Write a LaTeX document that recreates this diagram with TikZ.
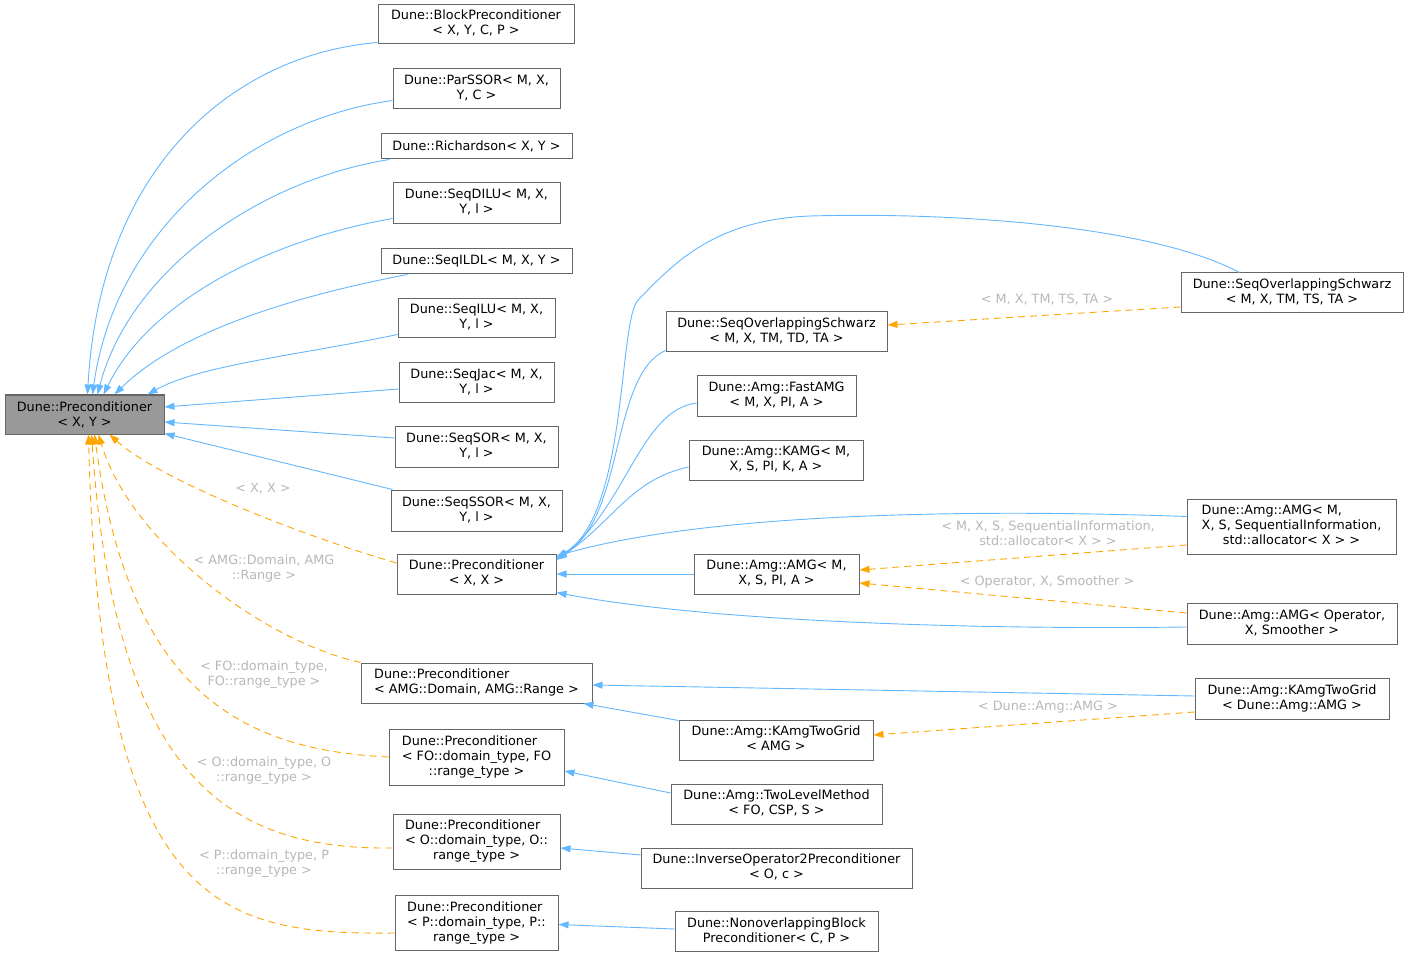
\documentclass[tikz,border=0pt]{standalone}
\usepackage{fontspec}
\setmainfont{DejaVu Sans}
\usetikzlibrary{arrows.meta,calc}
\definecolor{eblue}{HTML}{63B8FF}
\definecolor{eorange}{HTML}{FFA500}
\definecolor{bord}{HTML}{666666}
\definecolor{rootfill}{HTML}{999999}
\definecolor{lbl}{HTML}{B8B8B8}
\newcommand\tl[2]{\begin{tabular}{@{}l@{}}#1\\\multicolumn{1}{@{}c@{}}{#2}\end{tabular}}
\newcommand\tll[3]{\begin{tabular}{@{}l@{}}#1\\\multicolumn{1}{@{}c@{}}{#2}\\\multicolumn{1}{@{}c@{}}{#3}\end{tabular}}
\begin{document}
\begin{tikzpicture}[x=1pt,y=-1pt,
  box/.style={draw=bord, line width=1pt, fill=white, inner sep=0pt,
    font=\fontsize{12.8}{15}\selectfont, align=center},
  inh/.style={draw=eblue, line width=0.9pt, -{Triangle[length=10pt,width=7pt]}},
  tmpl/.style={draw=eorange, line width=0.9pt, dash pattern=on 7pt off 5pt,
    -{Triangle[length=10pt,width=7pt]}},
  lab/.style={text=lbl, font=\fontsize{12.8}{15}\selectfont, align=center, inner sep=0pt}]
\useasboundingbox (0,0) rectangle (1408,957);
\fill[white] (0,0) rectangle (1408,957);

% root
\node[box, fill=rootfill, minimum width=159, minimum height=39] (root) at (84.5,414.5) {Dune::Preconditioner\\< X, Y >};

% column 1
\node[box, minimum width=196, minimum height=39] (block) at (476,24.5) {\tl{Dune::BlockPreconditioner}{< X, Y, C, P >}};
\node[box, minimum width=167, minimum height=40] (parssor) at (476.5,89) {\tl{Dune::ParSSOR< M, X,}{Y, C >}};
\node[box, minimum width=191, minimum height=25] (rich) at (476.5,146.5) {Dune::Richardson< X, Y >};
\node[box, minimum width=167, minimum height=41] (dilu) at (476.5,203.5) {\tl{Dune::SeqDILU< M, X,}{Y, l >}};
\node[box, minimum width=191, minimum height=25] (ildl) at (476.5,261.5) {Dune::SeqILDL< M, X, Y >};
\node[box, minimum width=157, minimum height=39] (ilu) at (476.5,318.5) {\tl{Dune::SeqILU< M, X,}{Y, l >}};
\node[box, minimum width=155, minimum height=39] (jac) at (476.5,382.5) {\tl{Dune::SeqJac< M, X,}{Y, l >}};
\node[box, minimum width=163, minimum height=41] (sor) at (476.5,446.5) {\tl{Dune::SeqSOR< M, X,}{Y, l >}};
\node[box, minimum width=171, minimum height=41] (ssor) at (476.5,510.5) {\tl{Dune::SeqSSOR< M, X,}{Y, l >}};
\node[box, minimum width=159, minimum height=40] (pxx) at (476.5,574) {\tl{Dune::Preconditioner}{< X, X >}};
\node[box, minimum width=231, minimum height=40] (pamg) at (476.5,683) {\tl{Dune::Preconditioner}{< AMG::Domain, AMG::Range >}};
\node[box, minimum width=175, minimum height=56] (pfo) at (476.5,757) {\tll{Dune::Preconditioner}{< FO::domain\_type, FO}{::range\_type >}};
\node[box, minimum width=167, minimum height=55] (po) at (476.5,841.5) {\tll{Dune::Preconditioner}{< O::domain\_type, O::}{range\_type >}};
\node[box, minimum width=163, minimum height=55] (pp) at (476.5,923) {\tll{Dune::Preconditioner}{< P::domain\_type, P::}{range\_type >}};

% column 2
\node[box, minimum width=221, minimum height=40] (sostd) at (776.5,332) {\tl{Dune::SeqOverlappingSchwarz}{< M, X, TM, TD, TA >}};
\node[box, minimum width=159, minimum height=40] (fast) at (776.5,396) {\tl{Dune::Amg::FastAMG}{< M, X, PI, A >}};
\node[box, minimum width=174, minimum height=40] (kamg) at (776,460) {\tl{Dune::Amg::KAMG< M,}{X, S, PI, K, A >}};
\node[box, minimum width=165, minimum height=40] (amgpi) at (776.5,574) {\tl{Dune::Amg::AMG< M,}{X, S, PI, A >}};
\node[box, minimum width=194, minimum height=40] (ktga) at (776,740) {\tl{Dune::Amg::KAmgTwoGrid}{< AMG >}};
\node[box, minimum width=211, minimum height=40] (tlm) at (776.5,804) {\tl{Dune::Amg::TwoLevelMethod}{< FO, CSP, S >}};
\node[box, minimum width=271, minimum height=40] (inv) at (776.5,868) {\tl{Dune::InverseOperator2Preconditioner}{< O, c >}};
\node[box, minimum width=203, minimum height=40] (nonov) at (776.5,931.5) {\tl{Dune::NonoverlappingBlock}{Preconditioner< C, P >}};

% column 3
\node[box, minimum width=222, minimum height=40] (sosts) at (1292,293) {\tl{Dune::SeqOverlappingSchwarz}{< M, X, TM, TS, TA >}};
\node[box, minimum width=209, minimum height=55] (amgsi) at (1291.5,526.5) {\tll{Dune::Amg::AMG< M,}{X, S, SequentialInformation,}{std::allocator< X > >}};
\node[box, minimum width=210, minimum height=41] (amgop) at (1292,623.5) {\tl{Dune::Amg::AMG< Operator,}{X, Smoother >}};
\node[box, minimum width=194, minimum height=41] (ktgd) at (1292,698.5) {\tl{Dune::Amg::KAmgTwoGrid}{< Dune::Amg::AMG >}};

% edges to root (inheritance)
\draw[inh] ($(block.south west)+(0,-2)$) .. controls (230,55) and (100,170) .. ($(root.north west)+(83,0)$);
\draw[inh] ($(parssor.south west)+(0,-9)$) .. controls (250,120) and (115,230) .. ($(root.north west)+(88,0)$);
\draw[inh] ($(rich.south west)+(9,0)$) .. controls (260,180) and (130,270) .. ($(root.north west)+(93,0)$);
\draw[inh] ($(dilu.south west)+(0,-6)$) .. controls (270,240) and (150,300) .. ($(root.north west)+(99,0)$);
\draw[inh] ($(ildl.south west)+(27,0)$) .. controls (300,295) and (180,330) .. ($(root.north west)+(110,0)$);
\draw[inh] ($(ilu.south west)+(0,-4)$) .. controls (300,355) and (200,365) .. ($(root.north west)+(143,0)$);
\draw[inh] ($(jac.west)+(0,6.5)$) -- ($(root.east)+(0,-7.5)$);
\draw[inh] ($(sor.west)+(0,-8.5)$) -- ($(root.east)+(0,7.5)$);
\draw[inh] ($(ssor.north west)+(2,0)$) -- ($(root.south east)+(0,-1)$);

% template edges to root
\draw[tmpl] ($(pxx.west)+(0,-11)$) .. controls (300,535) and (160,480) .. ($(root.south west)+(105,0)$);
\draw[tmpl] (pamg.north west) .. controls (260,640) and (130,540) .. ($(root.south west)+(94,0)$);
\draw[tmpl] (pfo.west) .. controls (250,750) and (130,700) .. ($(root.south west)+(90,0)$);
\draw[tmpl] ($(po.west)+(0,6.5)$) .. controls (230,850) and (115,780) .. ($(root.south west)+(87,0)$);
\draw[tmpl] ($(pp.west)+(0,10)$) .. controls (220,935) and (100,910) .. ($(root.south west)+(84,0)$);

\node[lab] (l1) at (263,489) {< X, X >};
\node[lab] (l2) at (264,568) {< AMG::Domain, AMG\\::Range >};
\node[lab] (l3) at (264,675) {< FO::domain\_type,\\FO::range\_type >};
\node[lab] (l4) at (264,771) {< O::domain\_type, O\\::range\_type >};
\node[lab] (l5) at (264,864) {< P::domain\_type, P\\::range\_type >};

% edges to Preconditioner<X,X>
\draw[inh] ($(sostd.south west)+(0,-2)$) .. controls (610,375) and (625,520) .. ($(pxx.east)+(0,-16)$);
\draw[inh] ($(fast.west)+(0,7)$) .. controls (640,410) and (625,510) .. ($(pxx.east)+(0,-15)$);
\draw[inh] ($(kamg.west)+(0,7)$) .. controls (630,480) and (615,520) .. ($(pxx.east)+(0,-14)$);
\draw[inh] ($(sosts.north west)+(59,0)$) .. controls (1150,225) and (950,212) .. (810,216) .. controls (710,220) and (670,268) .. (638,300) .. controls (618,322) and (628,515) .. ($(pxx.east)+(0,-16)$);
\draw[inh] ($(amgsi.north west)+(0,18)$) .. controls (950,508) and (700,515) .. ($(pxx.east)+(0,-18)$);
\draw[inh] (amgpi.west) -- (pxx.east);
\draw[inh] ($(amgop.west)+(0,3.5)$) .. controls (950,630) and (700,620) .. ($(pxx.south east)+(0,-2)$);

% template edges on the right
\draw[tmpl] ($(sosts.west)+(0,14)$) -- ($(sostd.east)+(0,-7)$);
\draw[tmpl] ($(amgsi.west)+(0,18.5)$) -- ($(amgpi.east)+(0,-4)$);
\draw[tmpl] ($(amgop.west)+(0,-10.5)$) -- ($(amgpi.east)+(0,9)$);
\draw[tmpl] ($(ktgd.west)+(0,13.5)$) -- ($(ktga.east)+(0,-5)$);

\node[lab] (l6) at (1047,299) {< M, X, TM, TS, TA >};
\node[lab] (l7) at (1048,533) {< M, X, S, SequentialInformation,\\std::allocator< X > >};
\node[lab] (l8) at (1047,582) {< Operator, X, Smoother >};
\node[lab] (l9) at (1048,707) {< Dune::Amg::AMG >};

% remaining inheritance
\draw[inh] ($(ktgd.west)+(0,-2.5)$) -- ($(pamg.east)+(0,2)$);
\draw[inh] ($(ktga.north west)+(0,1)$) -- ($(pamg.south east)+(-9,0)$);
\draw[inh] ($(tlm.west)+(0,-11)$) -- ($(pfo.east)+(0,14)$);
\draw[inh] ($(inv.west)+(0,-13)$) -- ($(po.east)+(0,6.5)$);
\draw[inh] ($(nonov.west)+(0,-2.5)$) -- ($(pp.east)+(0,1.5)$);
\end{tikzpicture}
\end{document}
